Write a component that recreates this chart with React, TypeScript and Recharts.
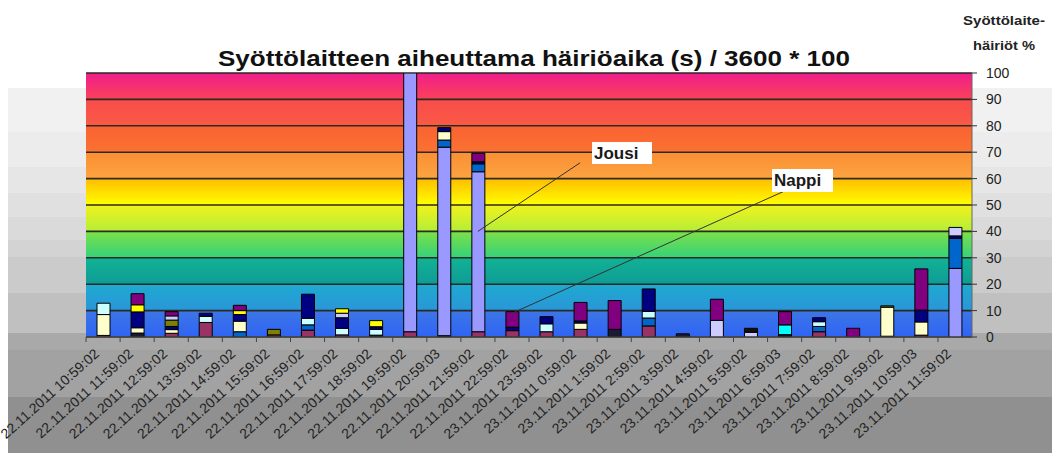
import { BarChart, Bar, XAxis, YAxis, CartesianGrid, ReferenceLine } from 'recharts';

const categories = [
  '22.11.2011 10:59:02', '22.11.2011 11:59:02', '22.11.2011 12:59:02', '22.11.2011 13:59:02',
  '22.11.2011 14:59:02', '22.11.2011 15:59:02', '22.11.2011 16:59:02', '22.11.2011 17:59:02',
  '22.11.2011 18:59:02', '22.11.2011 19:59:02', '22.11.2011 20:59:03', '22.11.2011 21:59:02',
  '22.11.2011 22:59:02', '23.11.2011 23:59:02', '23.11.2011 0:59:02', '23.11.2011 1:59:02',
  '23.11.2011 2:59:02', '23.11.2011 3:59:02', '23.11.2011 4:59:02', '23.11.2011 5:59:02',
  '23.11.2011 6:59:03', '23.11.2011 7:59:02', '23.11.2011 8:59:02', '23.11.2011 9:59:02',
  '23.11.2011 10:59:03', '23.11.2011 11:59:02',
];

// stacked segments, bottom to top
const maroon =   [0.6, 0, 1.4, 5.5, 0, 0.8, 2.6, 0.8, 0, 2, 0, 2, 2.4, 2, 2.9, 0, 4.2, 0, 0, 0, 0, 2, 0, 0, 0.7, 0];
const dark =     [0, 1.5, 0, 0, 0, 0, 0, 0, 0.7, 0, 0.5, 0, 0, 0, 0, 2.9, 0, 1.2, 0, 0, 0.9, 0, 0, 0.3, 0, 0];
const jousi =    [0, 0, 0, 0, 0, 0, 0, 0, 0, 105, 71.4, 60.6, 0, 0, 0, 0, 0, 0, 0, 0, 0, 0, 0, 0, 0, 26];
const blue =     [0, 0, 0, 0, 2, 0, 2, 0, 0, 0, 2.7, 3, 0, 0, 0, 0, 3, 0, 0, 0, 0, 2, 0, 0, 0, 11.4];
const ltYellow = [7.9, 2, 1.4, 0, 4, 0, 0, 0, 0, 0, 3.2, 0, 0, 0, 2.4, 0, 0, 0, 0, 0, 0, 0, 0, 11, 5, 0];
const ltCyan =   [4.3, 0, 0, 2.3, 0, 0, 2.5, 2.5, 2.2, 0, 0, 0, 0, 3, 0, 0, 2.5, 0, 0, 0, 0, 1.8, 0, 0, 0, 0];
const navy =     [0, 6, 1.2, 1.2, 2.5, 0, 9.1, 4, 1, 0, 1.5, 0.8, 1.3, 2.7, 0.8, 0, 8.5, 0, 0, 0, 0, 1.5, 0, 0, 4.5, 0.9];
const olive =    [0, 0, 2.4, 0, 0, 2.1, 0, 0, 0, 0, 0, 0, 0, 0, 0, 0, 0, 0, 0, 0, 0, 0, 0, 0.5, 0, 0];
const lavender = [0, 0, 1.6, 0, 0, 0, 0, 1.7, 0, 0, 0, 0, 0, 0, 0, 0, 0, 0, 6.3, 1.8, 0, 0, 0, 0, 0, 3.2];
const yellow =   [0, 2.7, 0, 0, 1.5, 0, 0, 1.7, 2.3, 0, 0, 0, 0, 0, 0, 0, 0, 0, 0, 0, 0, 0, 0, 0, 0, 0];
const cyan =     [0, 0, 0, 0, 0, 0, 0, 0, 0, 0, 0, 0, 0, 0, 0, 0, 0, 0, 0, 0, 3.7, 0, 0, 0, 0, 0];
const purple =   [0, 4.2, 1.6, 0, 2, 0, 0, 0, 0, 0, 0, 3.2, 5.9, 0, 7, 10.9, 0, 0, 8, 0, 5, 0, 3.3, 0, 15.6, 0];
const black =    [0, 0, 0, 0, 0, 0, 0, 0, 0, 0, 0, 0, 0, 0, 0, 0, 0, 0, 0, 1.5, 0, 0, 0, 0, 0, 0];

const yTicks = [0, 10, 20, 30, 40, 50, 60, 70, 80, 90, 100];

const series = [
  { key: 'maroon', values: maroon, color: '#993366' },
  { key: 'dark', values: dark, color: '#1a1a33' },
  { key: 'jousi', values: jousi, color: '#9999ff' },
  { key: 'blue', values: blue, color: '#0066cc' },
  { key: 'ltYellow', values: ltYellow, color: '#ffffcc' },
  { key: 'ltCyan', values: ltCyan, color: '#ccffff' },
  { key: 'navy', values: navy, color: '#000080' },
  { key: 'olive', values: olive, color: '#808000' },
  { key: 'lavender', values: lavender, color: '#ccccff' },
  { key: 'yellow', values: yellow, color: '#ffff00' },
  { key: 'cyan', values: cyan, color: '#00ffff' },
  { key: 'purple', values: purple, color: '#800080' },
  { key: 'black', values: black, color: '#111111' },
];

const data = categories.map((cat, i) => {
  const row: any = { cat };
  series.forEach((s) => { row[s.key] = s.values[i]; });
  return row;
});

// rainbow bands, top (100-90) to bottom (10-0)
const bands = [
  ['#f01e8c', '#fa4058'],
  ['#f84c4c', '#fa5a44'],
  ['#fa6232', '#fb7232'],
  ['#fb8f34', '#fca440'],
  ['#ffbe00', '#ffff00'],
  ['#f2f21c', '#b4ee38'],
  ['#7ee048', '#34d27a'],
  ['#12b294', '#0e9c96'],
  ['#1eaad0', '#2a96d8'],
  ['#3c76e6', '#2f64f5'],
];

const font = "Arial, 'Liberation Sans', sans-serif";

const XTick = ({ x, y, payload }: any) => {
  const ax = x - 3;
  const ay = y + 12;
  return (
    <g>
      <line x1={x - 17} x2={x - 17} y1={337} y2={342} stroke="#444" />
      <text
        x={ax}
        y={ay}
        transform={`rotate(-42 ${ax} ${ay})`}
        textAnchor="end"
        fontSize={14}
        fontFamily={font}
        fill="#222"
      >
        {payload.value}
      </text>
    </g>
  );
};

const bg =
  'linear-gradient(to bottom, #f1f1f1 0px, #f1f1f1 44px, #ececec 44px, #ececec 79px, #e6e6e6 79px, #e6e6e6 105px, ' +
  '#e0e0e0 105px, #e0e0e0 129px, #dadada 129px, #dadada 152px, #d3d3d3 152px, #d3d3d3 169px, #cbcbcb 169px, #cbcbcb 205px, ' +
  '#c0c0c0 205px, #c0c0c0 245px, #a9a9a9 245px, #a9a9a9 262px, #a2a2a2 262px, #a2a2a2 309px, #909090 309px, #909090 365px)';

export default function App() {
  return (
    <div style={{ position: 'absolute', left: 0, top: 0, width: 1052, height: 453, background: '#fff', overflow: 'hidden' }}>
      <div style={{ position: 'absolute', left: 8, top: 88, width: 1044, height: 365, background: bg }} />
      <div style={{ position: 'absolute', left: 0, top: 0 }}>
        <BarChart width={1052} height={453} data={data} margin={{ top: 73, right: 40, bottom: 0, left: 86 }} barSize={13}>
          <defs>
            {bands.map((b, i) => (
              <linearGradient key={i} id={`band${i}`} x1="0" y1="0" x2="0" y2="1">
                <stop offset="0%" stopColor={b[0]} />
                <stop offset="100%" stopColor={b[1]} />
              </linearGradient>
            ))}
          </defs>
          <CartesianGrid
            vertical={false}
            stroke="#2a2a22"
            strokeWidth={1.6}
            horizontalFill={bands.map((_, i) => `url(#band${i})`)}
            fillOpacity={1}
          />
          <XAxis
            dataKey="cat"
            interval={0}
            height={116}
            tickLine={false}
            tickSize={6}
            tickMargin={0}
            axisLine={{ stroke: '#555' }}
            tick={<XTick />}
          />
          <YAxis
            orientation="right"
            width={40}
            domain={[0, 100]}
            ticks={yTicks}
            allowDataOverflow
            tickSize={5}
            tickMargin={9}
            axisLine={{ stroke: '#666' }}
            tickLine={{ stroke: '#333' }}
            tick={{ fontSize: 14, fill: '#222', fontFamily: font, textAnchor: 'start' }}
          />
          {series.map((s) => (
            <Bar key={s.key} dataKey={s.key} stackId="a" fill={s.color} stroke="#000" strokeWidth={1} isAnimationActive={false} />
          ))}
          <ReferenceLine
            segment={[{ x: categories[11], y: 40 }, { x: categories[14], y: 66 }]}
            stroke="#333"
            strokeWidth={1}
            ifOverflow="visible"
          />
          <ReferenceLine
            segment={[{ x: categories[12], y: 9 }, { x: categories[20], y: 55.3 }]}
            stroke="#333"
            strokeWidth={1}
            ifOverflow="visible"
          />
        </BarChart>
      </div>
      <svg width={1052} height={453} style={{ position: 'absolute', left: 0, top: 0, pointerEvents: 'none' }}>
        <text x={218} y={66} fontSize={22} fontWeight="bold" fontFamily={font} fill="#111" textLength={632} lengthAdjust="spacingAndGlyphs">
          Syöttölaitteen aiheuttama häiriöaika (s) / 3600 * 100
        </text>
        <text x={1004} y={25} fontSize={13} fontWeight="bold" fontFamily={font} fill="#222" textAnchor="middle" textLength={82} lengthAdjust="spacingAndGlyphs">
          Syöttölaite-
        </text>
        <text x={1004} y={50} fontSize={13} fontWeight="bold" fontFamily={font} fill="#222" textAnchor="middle" textLength={62} lengthAdjust="spacingAndGlyphs">
          häiriöt %
        </text>
        <rect x={592} y={142} width={60} height={22} fill="#fff" />
        <text x={594} y={159} fontSize={17} fontWeight="bold" fontFamily={font} fill="#1a1a1a">Jousi</text>
        <rect x={772} y={169} width={61} height={23} fill="#fff" />
        <text x={774} y={186} fontSize={17} fontWeight="bold" fontFamily={font} fill="#1a1a1a">Nappi</text>
      </svg>
    </div>
  );
}
